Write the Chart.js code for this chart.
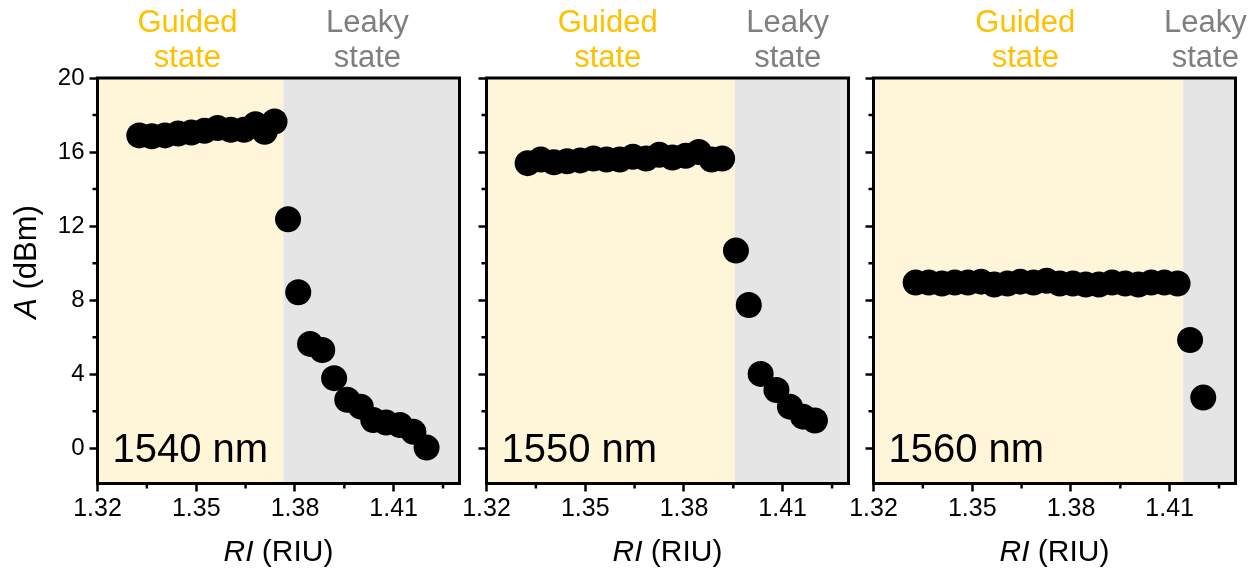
<!DOCTYPE html>
<html><head><meta charset="utf-8">
<script src="https://cdn.jsdelivr.net/npm/chart.js@4/dist/chart.umd.min.js"></script>
<style>
html,body{margin:0;padding:0;background:#fff;}
#wrap{position:relative;width:1256px;height:569px;overflow:hidden;}
canvas{position:absolute;left:0;top:0;}
</style></head><body>
<div id="wrap">
<canvas id="c1" width="1256" height="569"></canvas>
<canvas id="c2" width="1256" height="569"></canvas>
<canvas id="c3" width="1256" height="569"></canvas>
</div>
<script>
// ---------- data ----------
const panelLabels = ['1540 nm', '1550 nm', '1560 nm'];

const ri1540 = [1.3327, 1.3365, 1.3405, 1.3445, 1.3485, 1.3525, 1.3565, 1.3605, 1.3645, 1.3680, 1.3708, 1.3738,
                1.3779, 1.3810, 1.3846, 1.3883, 1.3919, 1.3959, 1.4000, 1.4038, 1.4077, 1.4119, 1.4160, 1.4200];
const a1540  = [16.9, 16.85, 16.9, 17.0, 17.05, 17.15, 17.3, 17.2, 17.2, 17.5, 17.1, 17.65,
                12.37, 8.43, 5.64, 5.31, 3.79, 2.62, 2.25, 1.53, 1.39, 1.26, 0.89, 0.04];

const ri1550 = [1.3325, 1.3365, 1.3405, 1.3445, 1.3485, 1.3525, 1.3565, 1.3605, 1.3645, 1.3685, 1.3725, 1.3765,
                1.3805, 1.3845, 1.3884, 1.3916,
                1.3958, 1.3997, 1.4033, 1.4081, 1.4122, 1.4162, 1.4198];
const a1550  = [15.4, 15.6, 15.45, 15.5, 15.55, 15.65, 15.6, 15.6, 15.75, 15.65, 15.85, 15.7,
                15.8, 16.0, 15.6, 15.65,
                10.68, 7.74, 4.02, 3.15, 2.25, 1.71, 1.50];

const ri1560 = [1.3328, 1.3368, 1.3408, 1.3447, 1.3487, 1.3527, 1.3567, 1.3607, 1.3646, 1.3686, 1.3726,
                1.3766, 1.3806, 1.3845, 1.3885, 1.3925, 1.3965, 1.4005, 1.4044, 1.4084, 1.4124,
                1.4162, 1.4202];
const a1560  = [8.95, 8.95, 8.9, 8.95, 8.95, 9.0, 8.85, 8.9, 9.0, 8.95, 9.05,
                8.9, 8.9, 8.85, 8.85, 8.95, 8.9, 8.85, 8.95, 8.95, 8.9,
                5.85, 2.74];

const guidedLimit = [1.3765, 1.3955, 1.4141];   // RI where guided state ends (leaky begins)
const regionNames = [['Guided', 'state'], ['Leaky', 'state']];

const xTickLabels = [1.32, 1.35, 1.38, 1.41];
const xMinorTicks = [1.335, 1.365, 1.395, 1.425];
const yTickLabels = [0, 4, 8, 12, 16, 20];
const yMinorTicks = [2, 6, 10, 14, 18];
const xRange = [1.32, 1.43];
const yRange = [-1.9, 20];

const panelsRI = [ri1540, ri1550, ri1560];
const panelsA  = [a1540, a1550, a1560];

// ---------- layout / style ----------
const W = 1256, H = 569;
const plotLeft = [97.5, 486.5, 873.5];
const plotWidth = 362;
const plotTop = 78, plotBottom = 483.5;
const FONT = '"Liberation Sans", Arial, Helvetica, sans-serif';
Chart.defaults.font.family = FONT;

function decoPlugin(i) {
  return {
    id: 'deco' + i,
    beforeDraw(chart) {
      const ctx = chart.ctx, a = chart.chartArea, xs = chart.scales.x;
      const b = xs.getPixelForValue(guidedLimit[i]);
      ctx.save();
      ctx.fillStyle = '#FFF5D9';
      ctx.fillRect(a.left, a.top, b - a.left, a.bottom - a.top);
      ctx.fillStyle = '#E5E5E5';
      ctx.fillRect(b, a.top, a.right - b, a.bottom - a.top);
      // region labels above the plot
      ctx.font = '31px ' + FONT;
      ctx.textAlign = 'center';
      ctx.textBaseline = 'alphabetic';
      const gx = (a.left + b) / 2 - 3;
      ctx.fillStyle = '#FFC000';
      ctx.fillText(regionNames[0][0], gx, 32);
      ctx.fillText(regionNames[0][1], gx, 67);
      ctx.fillStyle = '#7F7F7F';
      let lx = (b + a.right) / 2 - 4;
      const hw = ctx.measureText(regionNames[1][0]).width / 2;
      lx = Math.min(lx, W - hw - 3);
      ctx.fillText(regionNames[1][0], lx, 32);
      ctx.fillText(regionNames[1][1], lx, 67);
      ctx.restore();
    },
    afterDraw(chart) {
      const ctx = chart.ctx, a = chart.chartArea, xs = chart.scales.x, ys = chart.scales.y;
      ctx.save();
      // frame
      ctx.strokeStyle = '#000';
      ctx.lineWidth = 3;
      ctx.strokeRect(a.left, a.top, a.right - a.left, a.bottom - a.top);
      // minor ticks
      ctx.lineWidth = 2.5;
      ctx.beginPath();
      xMinorTicks.forEach(v => {
        const p = xs.getPixelForValue(v);
        ctx.moveTo(p, a.bottom); ctx.lineTo(p, a.bottom + 5);
      });
      yMinorTicks.forEach(v => {
        const p = ys.getPixelForValue(v);
        ctx.moveTo(a.left, p); ctx.lineTo(a.left - 5, p);
      });
      ctx.stroke();
      // panel label
      ctx.fillStyle = '#000';
      ctx.font = '40px ' + FONT;
      ctx.textAlign = 'left';
      ctx.textBaseline = 'alphabetic';
      ctx.fillText(panelLabels[i], a.left + 15, 462);
      // x title: RI (RIU)
      ctx.font = 'italic 30px ' + FONT;
      const w1 = ctx.measureText('RI').width;
      ctx.font = '30px ' + FONT;
      const w2 = ctx.measureText(' (RIU)').width;
      const cx = (a.left + a.right) / 2;
      let sx = cx - (w1 + w2) / 2;
      ctx.font = 'italic 30px ' + FONT;
      ctx.fillText('RI', sx, 561);
      ctx.font = '30px ' + FONT;
      ctx.fillText(' (RIU)', sx + w1, 561);
      // y title
      if (i === 0) {
        ctx.translate(36, 262);
        ctx.rotate(-Math.PI / 2);
        ctx.font = 'italic 31px ' + FONT;
        const v1 = ctx.measureText('A').width;
        ctx.font = '31px ' + FONT;
        const v2 = ctx.measureText(' (dBm)').width;
        const s = -(v1 + v2) / 2;
        ctx.font = 'italic 31px ' + FONT;
        ctx.fillText('A', s, 0);
        ctx.font = '31px ' + FONT;
        ctx.fillText(' (dBm)', s + v1, 0);
      }
      ctx.restore();
    }
  };
}

function makeChart(i) {
  const yAxisW = i === 0 ? plotLeft[0] : 10;
  const pts = panelsRI[i].map((x, k) => ({ x: x, y: panelsA[i][k] }));
  return new Chart(document.getElementById('c' + (i + 1)), {
    type: 'scatter',
    data: {
      datasets: [{
        data: pts,
        backgroundColor: '#000',
        borderColor: '#000',
        borderWidth: 0,
        pointRadius: 13,
        pointHoverRadius: 13,
        showLine: false
      }]
    },
    options: {
      responsive: false,
      animation: false,
      events: [],
      layout: {
        padding: {
          left: plotLeft[i] - yAxisW,
          right: W - (plotLeft[i] + plotWidth),
          top: plotTop,
          bottom: 0
        }
      },
      plugins: { legend: { display: false }, tooltip: { enabled: false } },
      scales: {
        x: {
          type: 'linear',
          min: xRange[0], max: xRange[1],
          afterBuildTicks: s => { s.ticks = xTickLabels.map(v => ({ value: v })); },
          afterFit: s => { s.height = H - plotBottom; },
          ticks: {
            color: '#000',
            font: { size: 25 },
            padding: 3,
            maxRotation: 0,
            autoSkip: false,
            callback: v => Number(v).toFixed(2)
          },
          grid: {
            display: true, drawOnChartArea: false, drawTicks: true,
            tickLength: 8, tickWidth: 2.5, tickColor: '#000', color: '#000'
          },
          border: { display: false }
        },
        y: {
          type: 'linear',
          min: yRange[0], max: yRange[1],
          afterBuildTicks: s => { s.ticks = yTickLabels.map(v => ({ value: v })); },
          afterFit: s => { s.width = yAxisW; },
          ticks: {
            color: '#000',
            font: { size: 24 },
            padding: 5,
            autoSkip: false,
            callback: v => (i === 0 ? String(v) : '')
          },
          grid: {
            display: true, drawOnChartArea: false, drawTicks: true,
            tickLength: 8, tickWidth: 2.5, tickColor: '#000', color: '#000'
          },
          border: { display: false }
        }
      }
    },
    plugins: [decoPlugin(i)]
  });
}

[0, 1, 2].forEach(makeChart);
</script>
</body></html>
